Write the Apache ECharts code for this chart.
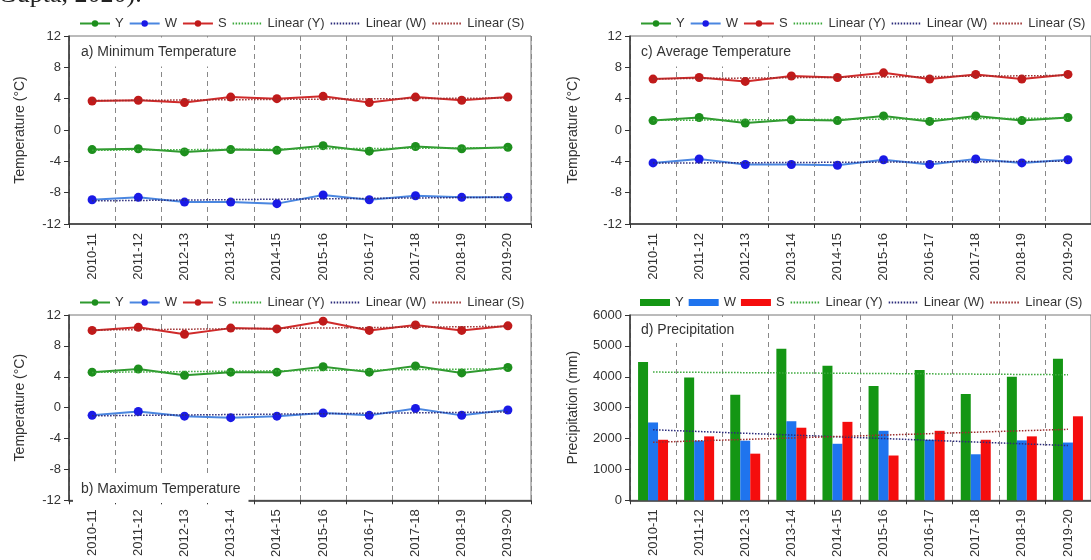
<!DOCTYPE html>
<html>
<head>
<meta charset="utf-8">
<script src="https://cdn.jsdelivr.net/npm/echarts@6/dist/echarts.min.js"></script>
<style>
html,body{margin:0;padding:0;background:#fff;}
#c{width:1091px;height:560px;}
</style>
</head>
<body>
<div id="c"></div>
<script>
// ---- data ----
const years = ['2010-11','2011-12','2012-13','2013-14','2014-15','2015-16','2016-17','2017-18','2018-19','2019-20'];
const tempTicks = [-12, -8, -4, 0, 4, 8, 12];
const precTicks = [0, 1000, 2000, 3000, 4000, 5000, 6000];

// a) Minimum temperature
const minY = [-2.5, -2.4, -2.8, -2.5, -2.6, -2.0, -2.7, -2.1, -2.4, -2.2];
const minW = [-8.9, -8.6, -9.2, -9.2, -9.4, -8.3, -8.9, -8.4, -8.6, -8.6];
const minS = [3.7, 3.8, 3.5, 4.2, 4.0, 4.3, 3.5, 4.2, 3.8, 4.2];
// b) Maximum temperature
const maxY = [4.6, 5.0, 4.2, 4.6, 4.6, 5.3, 4.6, 5.4, 4.5, 5.2];
const maxW = [-1.0, -0.5, -1.1, -1.3, -1.1, -0.7, -1.0, -0.1, -1.0, -0.3];
const maxS = [10.0, 10.4, 9.5, 10.3, 10.2, 11.2, 10.0, 10.7, 10.0, 10.6];
// c) Average temperature
const avgY = [1.2, 1.6, 0.9, 1.3, 1.2, 1.8, 1.1, 1.8, 1.2, 1.6];
const avgW = [-4.2, -3.7, -4.4, -4.4, -4.5, -3.8, -4.4, -3.7, -4.2, -3.8];
const avgS = [6.5, 6.7, 6.2, 6.9, 6.7, 7.3, 6.5, 7.1, 6.5, 7.1];
// d) Precipitation (mm)
const prcY = [4480, 3980, 3420, 4910, 4360, 3700, 4220, 3440, 4000, 4580];
const prcW = [2520, 1930, 1930, 2560, 1830, 2250, 1960, 1490, 1940, 1870];
const prcS = [1960, 2070, 1510, 2350, 2540, 1450, 2250, 1960, 2070, 2720];

// least-squares linear trend (as the "Linear" trendlines)
function trend(arr){
  const n = arr.length, mx = (n - 1) / 2;
  const my = arr.reduce((a, b) => a + b, 0) / n;
  let sxy = 0, sxx = 0;
  arr.forEach((v, i) => { sxy += (i - mx) * (v - my); sxx += (i - mx) * (i - mx); });
  const b = sxy / sxx;
  return arr.map((_, i) => +(my + b * (i - mx)).toFixed(3));
}

const FONT = '"Liberation Sans", Arial, sans-serif';
const TXT = '#333';
const COL = {
  Y: {line: '#2f9a2f', mark: '#1d8f1d', bar: '#149614', trend: '#3aa83a'},
  W: {line: '#4a86e0', mark: '#1a1ae6', bar: '#1f74ee', trend: '#2b2b7a'},
  S: {line: '#d02a2a', mark: '#c01a1a', bar: '#f50d0d', trend: '#9b2d2d'}
};

const grids = [
  {left: 69, top: 36, width: 462, height: 188},   // a
  {left: 69, top: 315, width: 462, height: 189},  // b
  {left: 630, top: 36, width: 462, height: 188},  // c
  {left: 630, top: 315, width: 462, height: 189}  // d
].map(g => Object.assign(g, {show: true, borderColor: '#777', borderWidth: 1, backgroundColor: 'transparent'}));

const xAxes = grids.map((g, i) => ({
  type: 'category', gridIndex: i, data: years, boundaryGap: true,
  axisLine: {onZero: false, lineStyle: {color: '#333', width: 1.5}},
  axisTick: {show: true, length: 4, interval: 0, lineStyle: {color: '#333'}},
  axisLabel: {rotate: 90, interval: 0, fontSize: 13, color: TXT, fontFamily: FONT, margin: 9},
  splitLine: {show: true, interval: 0, lineStyle: {color: '#888', width: 1, type: [5, 4]}}
}));

function yAx(i, ticks, name, gap){
  return {
    type: 'value', gridIndex: i, min: ticks[0], max: ticks[ticks.length - 1],
    interval: ticks[1] - ticks[0],
    name: name, nameLocation: 'middle', nameGap: gap, nameRotate: 90,
    nameTextStyle: {fontSize: 14, color: TXT, fontFamily: FONT},
    axisLine: {show: true, onZero: false, lineStyle: {color: '#333', width: 1.5}},
    axisTick: {show: true, length: 5, lineStyle: {color: '#333'}},
    axisLabel: {fontSize: 13, color: TXT, fontFamily: FONT, margin: 8, formatter: v => String(v)},
    splitLine: {show: false}
  };
}
const yAxes = [
  yAx(0, tempTicks, 'Temperature (°C)', 42),
  yAx(1, tempTicks, 'Temperature (°C)', 42),
  yAx(2, tempTicks, 'Temperature (°C)', 50),
  yAx(3, precTicks, 'Precipitation (mm)', 50)
];

function trendSeries(tag, gi, Y, W, S){
  return [['Y', Y], ['W', W], ['S', S]].map(([k, d]) => ({
    name: 'Linear (' + k + ')|' + tag, type: 'line', xAxisIndex: gi, yAxisIndex: gi, data: trend(d),
    symbol: 'none', z: 3, silent: true,
    lineStyle: {color: COL[k].trend, width: 1.5, type: [1.5, 1.5]},
    itemStyle: {color: COL[k].trend}
  }));
}

function tempSeries(tag, gi, Y, W, S){
  const out = [['Y', Y], ['W', W], ['S', S]].map(([k, d]) => ({
    name: k + '|' + tag, type: 'line', xAxisIndex: gi, yAxisIndex: gi, data: d,
    symbol: 'circle', symbolSize: 9, z: 2,
    lineStyle: {color: COL[k].line, width: 2},
    itemStyle: {color: COL[k].mark}
  }));
  return out.concat(trendSeries(tag, gi, Y, W, S));
}

function precSeries(tag, gi, Y, W, S){
  const out = [['Y', Y], ['W', W], ['S', S]].map(([k, d]) => ({
    name: k + '|' + tag, type: 'bar', xAxisIndex: gi, yAxisIndex: gi, data: d,
    barGap: '0%', barCategoryGap: '35%', z: 2,
    itemStyle: {color: COL[k].bar}
  }));
  return out.concat(trendSeries(tag, gi, Y, W, S));
}

const series = [].concat(
  tempSeries('a', 0, minY, minW, minS),
  tempSeries('b', 1, maxY, maxW, maxS),
  tempSeries('c', 2, avgY, avgW, avgS),
  precSeries('d', 3, prcY, prcW, prcS)
);

function legend(tag, left, top, bars){
  const names = ['Y', 'W', 'S'].map(k => bars ? {name: k + '|' + tag, icon: 'rect'} : k + '|' + tag)
    .concat(['Y', 'W', 'S'].map(k => ({name: 'Linear (' + k + ')|' + tag, itemStyle: {opacity: 0}})));
  return {
    left: left, top: top, width: 460, padding: 0, itemWidth: 30, itemHeight: bars ? 7 : 8, itemGap: 5,
    selectedMode: false,
    textStyle: {fontSize: 13, color: TXT, fontFamily: FONT},
    formatter: n => n.split('|')[0],
    data: names
  };
}

function panelLabel(text, x, y, pad){
  return {
    type: 'text', x: x, y: y, z: 1,
    style: {
      text: text, font: '14px ' + FONT, fill: TXT,
      backgroundColor: '#fff', padding: pad, verticalAlign: 'middle', align: 'left'
    }
  };
}

const chart = echarts.init(document.getElementById('c'), null, {renderer: 'canvas'});
chart.setOption({
  animation: false,
  backgroundColor: '#fff',
  grid: grids,
  xAxis: xAxes,
  yAxis: yAxes,
  legend: [legend('a', 79, 17, false), legend('b', 79, 296, false), legend('c', 640, 17, false), legend('d', 640, 296, true)],
  series: series,
  graphic: [
    {type: 'text', x: -2, y: 8, style: {text: 'Gupta, 2020).', font: '26px "Liberation Serif", "Times New Roman", serif', fill: '#222', verticalAlign: 'bottom'}},
    panelLabel('a) Minimum Temperature', 73, 52, [7, 8, 8, 8]),
    panelLabel('b) Maximum Temperature', 73, 489, [8, 8, 6, 8]),
    panelLabel('c) Average Temperature', 633, 52, [7, 8, 8, 8]),
    panelLabel('d) Precipitation', 633, 330, [6, 8, 6, 8])
  ]
});
</script>
</body>
</html>
